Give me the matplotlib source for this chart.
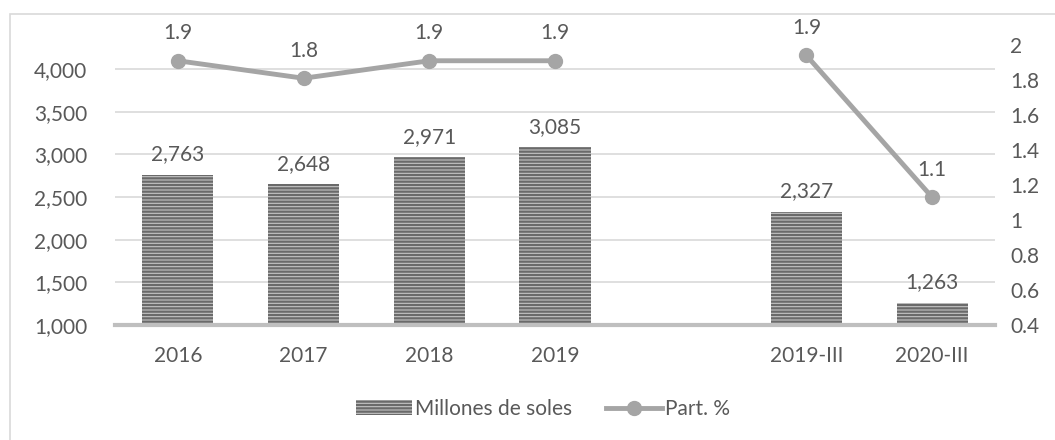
import numpy as np
import matplotlib
matplotlib.use("Agg")
import matplotlib.pyplot as plt
from matplotlib.patches import Rectangle, Patch
from matplotlib.lines import Line2D

# Data (blank category between 2019 and 2019-III)
categories = ["2016", "2017", "2018", "2019", "", "2019-III", "2020-III"]
millones = [2763, 2648, 2971, 3085, np.nan, 2327, 1263]
part = [1.91, 1.81, 1.91, 1.91, np.nan, 1.94, 1.13]
part_labels = ["1.9", "1.8", "1.9", "1.9", "", "1.9", "1.1"]

plt.rcParams["font.family"] = ["Lato", "DejaVu Sans"]
plt.rcParams["hatch.linewidth"] = 1.6
txt = "#595959"
fs = 15

fig = plt.figure(figsize=(10.55, 4.4), dpi=100)
ax = fig.add_axes([115/1055, 1 - 325/440, 880/1055, 280/440])
ax2 = ax.twinx()

# outer chart border
fig.patches.append(Rectangle((10/1055, -0.05), 1.1, 1 - 14/440 + 0.05,
                             transform=fig.transFigure, fill=False,
                             edgecolor="#d9d9d9", linewidth=1.2))

x = np.arange(len(categories))
mask = ~np.isnan(millones)
ax.bar(x[mask], np.array(millones)[mask], width=0.565, bottom=0,
       color="#c4c4c4", edgecolor="#6a6a6a", hatch="-----", linewidth=0, zorder=2)
for xi, v in zip(x[mask], np.array(millones)[mask]):
    ax.text(xi, v + 120, f"{int(v):,}", ha="center", va="bottom",
            fontsize=fs, color=txt)

ax.set_xlim(-0.5, len(categories) - 0.5)
ax.set_ylim(1000, 4283)
ax.set_yticks([1000, 1500, 2000, 2500, 3000, 3500, 4000])
ax.set_yticklabels([f"{t:,}" for t in [1000, 1500, 2000, 2500, 3000, 3500, 4000]])
ax.set_xticks(x)
ax.set_xticklabels(categories)
ax.grid(axis="y", color="#d9d9d9", linewidth=1.2, zorder=0)
ax.set_axisbelow(True)

ax2.plot(x, part, color="#a5a5a5", linewidth=3.5, marker="o", markersize=10,
         zorder=3)
for xi, v, lab in zip(x, part, part_labels):
    if lab:
        ax2.text(xi, v + 0.1, lab, ha="center", va="bottom", fontsize=fs, color=txt)
ax2.set_ylim(0.4, 2.0)
ax2.set_yticks([0.4, 0.6, 0.8, 1.0, 1.2, 1.4, 1.6, 1.8, 2.0])
ax2.set_yticklabels(["0.4", "0.6", "0.8", "1", "1.2", "1.4", "1.6", "1.8", "2"])

for a in (ax, ax2):
    for s in a.spines.values():
        s.set_visible(False)
    a.tick_params(length=0, labelsize=fs, labelcolor=txt)
ax.tick_params(axis="y", pad=20)
ax.tick_params(axis="x", pad=15)
ax2.tick_params(axis="y", pad=11)
ax.spines["bottom"].set_visible(True)
ax.spines["bottom"].set_color("#bfbfbf")
ax.spines["bottom"].set_linewidth(3)

handles = [Patch(facecolor="#c4c4c4", edgecolor="#6a6a6a", hatch="-----", linewidth=0),
           Line2D([0], [0], color="#a5a5a5", linewidth=3.5, marker="o", markersize=10)]
fig.legend(handles, ["Millones de soles", "Part. %"], loc="center",
           bbox_to_anchor=(543/1055, 1 - 409/440), ncol=2, frameon=False,
           fontsize=fs, labelcolor=txt, handlelength=2.7, handletextpad=0.15,
           columnspacing=1.6)

fig.savefig("out.png", dpi=100)
